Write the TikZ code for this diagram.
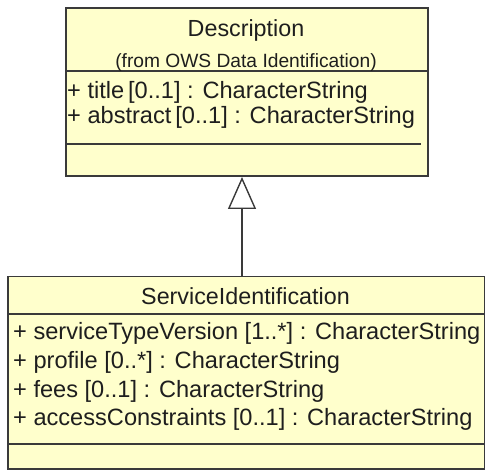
\documentclass[tikz,border=0pt]{standalone}
\usepackage{fontspec}
\setmainfont{Liberation Sans}
\usetikzlibrary{arrows.meta}
\definecolor{classfill}{HTML}{FFFFCC}
\definecolor{classline}{HTML}{3A3A3A}
\definecolor{classtext}{HTML}{1E1E1E}
\tikzset{
  classbox/.style={draw=classline, fill=classfill, rectangle, inner sep=0pt, anchor=north west},
  sepline/.style={draw=classline, line width=1.3pt},
  title/.style={anchor=base, inner sep=0pt, text=classtext, font=\fontsize{23.3}{26}\selectfont},
  origin/.style={anchor=base, inner sep=0pt, text=classtext, font=\fontsize{19.2}{22}\selectfont},
  attr/.style={anchor=base west, inner sep=0pt, text=classtext, font=\fontsize{23.6}{26}\selectfont},
  inherit/.style={draw=classline, line width=1.4pt, -{Triangle[open, length=32pt, width=28pt, line width=1.4pt]}}
}
\begin{document}
\begin{tikzpicture}[x=1pt, y=-1pt]
  \useasboundingbox (0,0) rectangle (485,470);

  % superclass: Description
  \node[classbox, line width=2.2pt, minimum width=362pt, minimum height=168pt] (desc) at (65,7) {};
  \draw[sepline] (65,71) -- (427,71);
  \draw[sepline, line width=1.1pt] (65,144) -- (421,144);
  \node[title] (descname) at (246,37) {Description};
  \node[origin] (descfrom) at (246,68) {(from OWS Data Identification)};
  \node[attr] (dtitle) at (67,99) {+ title\,[0..1] : CharacterString};
  \node[attr] (dabstract) at (67,124) {+ abstract\,[0..1] : CharacterString};

  % subclass: ServiceIdentification
  \node[classbox, line width=1.5pt, minimum width=477pt, minimum height=192pt] (svc) at (7,276) {};
  \draw[sepline] (7,314) -- (484,314);
  \draw[sepline] (7,444) -- (484,444);
  \node[title] (svcname) at (245.5,305) {ServiceIdentification};
  \node[attr] (sver) at (13,340) {+ serviceTypeVersion [1..*] : CharacterString};
  \node[attr] (sprof) at (13,368.7) {+ profile [0..*] : CharacterString};
  \node[attr] (sfees) at (13,397.4) {+ fees [0..1] : CharacterString};
  \node[attr] (sacc) at (13,426) {+ accessConstraints [0..1] : CharacterString};

  % generalization
  \coordinate (genfrom) at (242,276);
  \coordinate (gento) at (242,177);
  \draw[inherit] (genfrom) -- (gento);
\end{tikzpicture}
\end{document}
